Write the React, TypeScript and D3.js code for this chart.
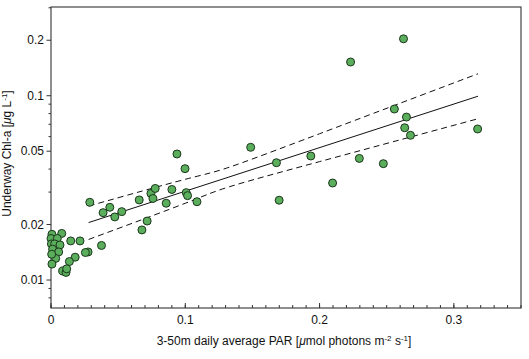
import * as d3 from "d3";

// scatter data: PAR (x) vs Chl-a (y)
const parX = [
  0.0007, 0.008, 0.0, 0.0047, 0.0003, 0.0027, 0.0067, 0.0012, 0.0057, 0.0035,
  0.0007, 0.0005, 0.0147, 0.0216, 0.0376, 0.0276, 0.0256, 0.018, 0.0137, 0.0087,
  0.0112, 0.0117,
  0.0289, 0.0388, 0.0438, 0.0475, 0.0527, 0.0657, 0.0716, 0.0677, 0.0744, 0.0776,
  0.0759, 0.0858, 0.09, 0.0938, 0.0998, 0.1007, 0.1017, 0.1087,
  0.1487, 0.1679, 0.1699, 0.1935, 0.2097, 0.2231, 0.2296, 0.2475, 0.2557, 0.2625,
  0.2634, 0.2647, 0.2677, 0.3177,
];
const chlY = [
  0.0177, 0.0179, 0.0168, 0.0168, 0.0157, 0.0157, 0.0155, 0.0147, 0.0142, 0.0131,
  0.0122, 0.0138, 0.0163, 0.0163, 0.0154, 0.0142, 0.0141, 0.0133, 0.0126, 0.0112,
  0.011, 0.0115,
  0.0264, 0.0232, 0.0248, 0.022, 0.0235, 0.0272, 0.0209, 0.0187, 0.0295, 0.0314,
  0.0277, 0.0261, 0.031, 0.0483, 0.0402, 0.0298, 0.0287, 0.0266,
  0.0525, 0.0433, 0.0271, 0.0471, 0.0336, 0.1524, 0.0457, 0.0428, 0.0847, 0.2036,
  0.067, 0.0766, 0.061, 0.066,
];

// regression line and confidence band
const fitX = [0.028, 0.318];
const fitY = [0.0205, 0.0994];
const bandX = [0.028, 0.1, 0.133, 0.2, 0.318];
const bandUpper = [0.0252, 0.0352, 0.041, 0.0622, 0.1316];
const bandLower = [0.0166, 0.0261, 0.0321, 0.0439, 0.075];

const xTicks = [0, 0.1, 0.2, 0.3];
const yTicks = [0.01, 0.02, 0.05, 0.1, 0.2];
const yMinorTicks = [0.008, 0.009, 0.03, 0.04, 0.06, 0.07, 0.08, 0.09, 0.3];

const W = 529, H = 359;
const left = 51, right = 521, top = 7, bottom = 308;
const font = "Liberation Sans, Arial, Helvetica, sans-serif";

export default function App() {
  const x = d3.scaleLinear().domain([0, 0.35]).range([left, right]);
  const y = d3.scaleLog().domain([0.00705, 0.303]).range([bottom, top]);

  const xMinor = d3.range(0, 36).map((i) => i / 100);

  const straight = d3.line<number>()
    .x((_, i) => x(fitX[i]))
    .y((d) => y(d));
  const curved = d3.line<number>()
    .x((_, i) => x(bandX[i]))
    .y((d) => y(d))
    .curve(d3.curveNatural);

  const fmt = (v: number) => (v === 0 ? "0" : String(v));

  return (
    <svg width={W} height={H} style={{ position: "absolute", left: 0, top: 0, background: "#fff" }}
      fontFamily={font}>
      {/* frame */}
      <rect x={left} y={top} width={right - left} height={bottom - top}
        fill="none" stroke="#333" strokeWidth={1.1} />

      {/* x ticks, pointing inward */}
      {xMinor.map((v) => (
        <line key={"xm" + v} x1={x(v)} x2={x(v)} y1={bottom} y2={bottom - 3} stroke="#333" />
      ))}
      {xTicks.map((v) => (
        <g key={"xt" + v}>
          <line x1={x(v)} x2={x(v)} y1={bottom} y2={bottom - 5} stroke="#333" />
          <text x={x(v)} y={324} fontSize={12} textAnchor="middle" fill="#111">{fmt(v)}</text>
        </g>
      ))}

      {/* y ticks, pointing outward */}
      {yMinorTicks.map((v) => (
        <line key={"ym" + v} x1={left} x2={left - 2.5} y1={y(v)} y2={y(v)} stroke="#333" />
      ))}
      {yTicks.map((v) => (
        <g key={"yt" + v}>
          <line x1={left} x2={left - 4.5} y1={y(v)} y2={y(v)} stroke="#333" />
          <text x={44} y={y(v) + 4.2} fontSize={12} textAnchor="end" fill="#111">{fmt(v)}</text>
        </g>
      ))}

      {/* fit + confidence band */}
      <path d={straight(fitY) ?? ""} fill="none" stroke="#111" strokeWidth={1} />
      <path d={curved(bandUpper) ?? ""} fill="none" stroke="#111" strokeWidth={1} strokeDasharray="6,4" />
      <path d={curved(bandLower) ?? ""} fill="none" stroke="#111" strokeWidth={1} strokeDasharray="6,4" />

      {/* points */}
      {parX.map((v, i) => (
        <circle key={i} cx={x(v)} cy={y(chlY[i])} r={4}
          fill="#5aae5c" stroke="#1c361c" strokeWidth={1} />
      ))}

      {/* axis titles */}
      <text x={284} y={345} fontSize={12} textAnchor="middle" fill="#111">
        3-50m daily average PAR [<tspan fontStyle="italic">μ</tspan>mol photons m
        <tspan dy={-4} fontSize={8}>-2</tspan>
        <tspan dy={4}> s</tspan>
        <tspan dy={-4} fontSize={8}>-1</tspan>
        <tspan dy={4}>]</tspan>
      </text>
      <text transform={`translate(11, ${(top + bottom) / 2 - 4}) rotate(-90)`} fontSize={12}
        textAnchor="middle" fill="#111">
        Underway Chl-a [<tspan fontStyle="italic">μ</tspan>g L
        <tspan dy={-4} fontSize={8}>-1</tspan>
        <tspan dy={4}>]</tspan>
      </text>
    </svg>
  );
}
